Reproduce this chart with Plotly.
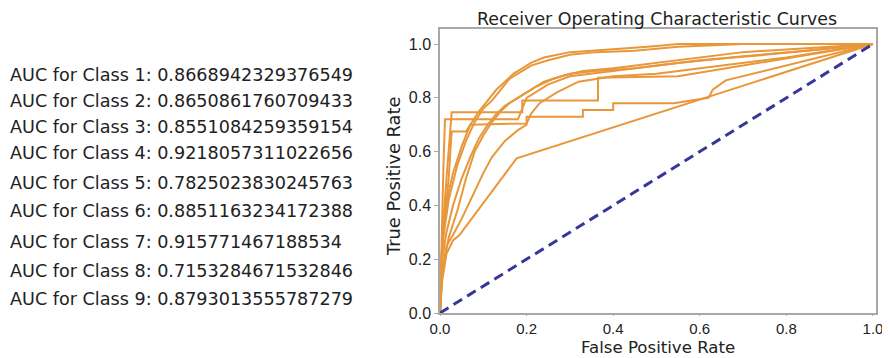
import plotly.graph_objects as go

# ---------------- data ----------------
class_labels = ["1", "2", "3", "4", "5", "6", "7", "8", "9"]
auc_values = ["0.8668942329376549", "0.8650861760709433", "0.8551084259359154",
              "0.9218057311022656", "0.7825023830245763", "0.8851163234172388",
              "0.915771467188534", "0.7153284671532846", "0.8793013555787279"]

fpr_1 = [0, 0.004, 0.008, 0.0115, 0.18, 0.19, 0.2, 0.25, 0.3, 0.4, 0.5, 0.6, 0.75, 1.0]
tpr_1 = [0, 0.3, 0.55, 0.72, 0.72, 0.76, 0.8, 0.85, 0.88, 0.9, 0.92, 0.94, 0.96, 1.0]

fpr_2 = [0, 0.006, 0.015, 0.027, 0.19, 0.19, 0.365, 0.365, 0.55, 1.0]
tpr_2 = [0, 0.3, 0.5, 0.746, 0.746, 0.79, 0.79, 0.875, 0.88, 1.0]

fpr_3 = [0, 0.008, 0.02, 0.027, 0.06, 0.07, 0.2, 0.21, 0.23, 0.27, 0.32, 0.4, 0.5, 0.65, 0.8, 1.0]
tpr_3 = [0, 0.3, 0.5, 0.675, 0.675, 0.70, 0.705, 0.74, 0.78, 0.82, 0.86, 0.88, 0.89, 0.92, 0.95, 1.0]

fpr_4 = [0, 0.003, 0.01, 0.02, 0.03, 0.05, 0.07, 0.09, 0.11, 0.13, 0.15, 0.17, 0.19, 0.21,
         0.24, 0.27, 0.30, 0.35, 0.40, 0.48, 0.55, 1.0]
tpr_4 = [0, 0.20, 0.35, 0.45, 0.52, 0.62, 0.70, 0.75, 0.79, 0.83, 0.86, 0.89, 0.91, 0.93,
         0.95, 0.96, 0.97, 0.975, 0.98, 0.99, 1.0, 1.0]

fpr_5 = [0, 0.005, 0.015, 0.03, 0.05, 0.08, 0.1, 0.12, 0.15, 0.18, 0.2, 0.2, 0.33, 0.33,
         0.40, 0.40, 0.54, 0.62, 0.63, 0.66, 1.0]
tpr_5 = [0, 0.15, 0.25, 0.29, 0.35, 0.45, 0.52, 0.58, 0.64, 0.68, 0.70, 0.73, 0.73, 0.755,
         0.755, 0.78, 0.78, 0.80, 0.83, 0.865, 1.0]

fpr_6 = [0, 0.005, 0.015, 0.03, 0.05, 0.07, 0.09, 0.11, 0.13, 0.15, 0.18, 0.21, 0.24, 0.28,
         0.33, 0.4, 0.5, 0.6, 0.7, 0.8, 1.0]
tpr_6 = [0, 0.2, 0.3, 0.4, 0.5, 0.58, 0.65, 0.7, 0.74, 0.77, 0.8, 0.83, 0.86, 0.88,
         0.9, 0.91, 0.93, 0.95, 0.97, 0.98, 1.0]

fpr_7 = [0, 0.005, 0.02, 0.04, 0.06, 0.08, 0.10, 0.12, 0.14, 0.16, 0.18, 0.21, 0.25, 0.3,
         0.36, 0.45, 0.55, 0.7, 1.0]
tpr_7 = [0, 0.25, 0.42, 0.55, 0.64, 0.71, 0.76, 0.79, 0.83, 0.87, 0.89, 0.92, 0.94, 0.96,
         0.97, 0.975, 0.99, 1.0, 1.0]

fpr_8 = [0, 0.005, 0.015, 0.03, 0.045, 0.177, 1.0]
tpr_8 = [0, 0.12, 0.22, 0.27, 0.29, 0.575, 1.0]

fpr_9 = [0, 0.005, 0.02, 0.04, 0.06, 0.08, 0.1, 0.12, 0.14, 0.16, 0.19, 0.22, 0.26, 0.3,
         0.36, 0.45, 0.55, 0.7, 0.85, 1.0]
tpr_9 = [0, 0.15, 0.28, 0.38, 0.5, 0.6, 0.66, 0.71, 0.75, 0.78, 0.81, 0.84, 0.87, 0.89,
         0.9, 0.91, 0.93, 0.955, 0.975, 1.0]

chance_x = [0, 1]
chance_y = [0, 1]

fprs = [fpr_1, fpr_2, fpr_3, fpr_4, fpr_5, fpr_6, fpr_7, fpr_8, fpr_9]
tprs = [tpr_1, tpr_2, tpr_3, tpr_4, tpr_5, tpr_6, tpr_7, tpr_8, tpr_9]

x_ticks = [0.0, 0.2, 0.4, 0.6, 0.8, 1.0]
y_ticks = [0.0, 0.2, 0.4, 0.6, 0.8, 1.0]

# ---------------- figure ----------------
ORANGE = "#E8973A"
NAVY = "#37379A"
FONT = "DejaVu Sans"
TXT = "#222222"

fig = go.Figure()
for i, (fx, ty) in enumerate(zip(fprs, tprs)):
    fig.add_trace(go.Scatter(x=fx, y=ty, mode="lines", name=f"Class {class_labels[i]}",
                             line=dict(color=ORANGE, width=2), showlegend=False))
fig.add_trace(go.Scatter(x=chance_x, y=chance_y, mode="lines", showlegend=False,
                         line=dict(color=NAVY, width=3, dash="10px,6px")))

# the page body has an 8px margin, so the figure sits at (8, 8) in the window
OFF = 8
W, H = 890 - OFF, 358 - OFF
L, T = 440 - OFF, 29 - OFF
R, B = W - (876 - OFF), H - (313 - OFF)
pw, ph = W - L - R, H - T - B


def px_x(px):  # window pixel -> paper x
    return (px - OFF - L) / pw


def px_y(py):  # window pixel -> paper y
    return (H - B - (py - OFF)) / ph


# left text list
text_px_y = [75, 101, 127, 153, 183, 211, 242, 271, 299]
annotations = []
for lab, val, py in zip(class_labels, auc_values, text_px_y):
    annotations.append(dict(
        text=f"AUC for Class {lab}: {val}",
        xref="paper", yref="paper", x=px_x(8), y=px_y(py),
        xanchor="left", yanchor="middle", showarrow=False,
        font=dict(family=FONT, size=17.6, color=TXT)))

# title and axis titles
annotations.append(dict(text="Receiver Operating Characteristic Curves",
                        xref="paper", yref="paper", x=px_x(657), y=px_y(8),
                        xanchor="center", yanchor="top", showarrow=False, borderpad=0,
                        font=dict(family=FONT, size=17.4, color=TXT)))
annotations.append(dict(text="False Positive Rate",
                        xref="paper", yref="paper", x=px_x(658), y=px_y(358),
                        xanchor="center", yanchor="bottom", showarrow=False, borderpad=0,
                        font=dict(family=FONT, size=16.6, color=TXT)))
annotations.append(dict(text="True Positive Rate", textangle=-90,
                        xref="paper", yref="paper", x=px_x(393), y=px_y(177),
                        xanchor="center", yanchor="middle", showarrow=False,
                        font=dict(family=FONT, size=17.8, color=TXT)))

axis_common = dict(showgrid=False, zeroline=False, showline=True, mirror=True,
                   linecolor="#a8a8a8", linewidth=1.5, ticks="outside",
                   tickwidth=1.2, tickcolor="#a8a8a8", tickformat=".1f",
                   automargin=False)

fig.update_layout(
    width=W, height=H,
    margin=dict(l=L, r=R, t=T, b=B, autoexpand=False),
    paper_bgcolor="white", plot_bgcolor="white",
    xaxis=dict(range=[0, 1.007], tickvals=x_ticks, ticklen=1,
               tickfont=dict(family="Liberation Sans", size=15, color=TXT), **axis_common),
    yaxis=dict(range=[0, 1.056], tickvals=y_ticks, ticklen=4,
               tickfont=dict(family="Liberation Sans", size=16, color=TXT), **axis_common),
    annotations=annotations,
)

fig.write_html("out.html")
